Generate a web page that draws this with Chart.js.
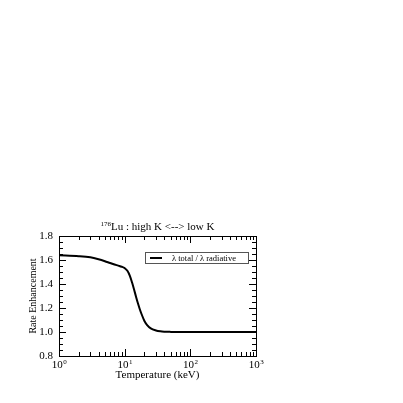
<!DOCTYPE html>
<html><head><meta charset="utf-8">
<script src="https://cdn.jsdelivr.net/npm/chart.js@4/dist/chart.umd.min.js"></script>
<style>html,body{margin:0;padding:0;background:#fff;}#wrap{width:403px;height:403px;}</style>
</head><body><div id="wrap"><canvas id="c" width="403" height="403"></canvas></div>
<script>
const temperature = [1, 2, 3, 4, 5, 6, 7, 8, 9, 10, 11, 12, 13, 14, 15, 16, 17, 18, 20, 22, 25, 30, 35, 40, 50, 70, 100, 1000];
const enhancement = [1.640, 1.632, 1.622, 1.606, 1.590, 1.575, 1.563, 1.553, 1.544, 1.532, 1.510, 1.468, 1.410, 1.348, 1.288, 1.235, 1.190, 1.152, 1.092, 1.058, 1.030, 1.013, 1.006, 1.003, 1.001, 1.0, 1.0, 1.0];
const xTickValues = [1, 10, 100, 1000];
const xTickBase = "10";
const xTickExponents = ["0", "1", "2", "3"];
const yTickValues = [0.8, 1.0, 1.2, 1.4, 1.6, 1.8];
const seriesLabel = "λ total / λ radiative";
const titleSup = "176";
const titleMain = "Lu : high K <--> low K";
const xTitle = "Temperature (keV)";
const yTitle = "Rate Enhancement";

const SERIF = "'Liberation Serif', 'DejaVu Serif', serif";

const decor = {
  id: 'decor',
  afterDatasetsDraw(chart) {
    const ctx = chart.ctx, a = chart.chartArea;
    const xs = chart.scales.x, ys = chart.scales.y;
    ctx.save();
    ctx.strokeStyle = '#000';
    ctx.lineWidth = 1;
    ctx.strokeRect(Math.round(a.left) + 0.5, Math.round(a.top) + 0.5, Math.round(a.right - a.left), Math.round(a.bottom - a.top));
    ctx.beginPath();
    for (let d = 0; d < 3; d++) {
      for (let m = 1; m <= 9; m++) {
        const v = m * Math.pow(10, d);
        const px = Math.round(xs.getPixelForValue(v)) + 0.5;
        const len = m === 1 ? 7 : 4;
        ctx.moveTo(px, a.bottom); ctx.lineTo(px, a.bottom - len);
        ctx.moveTo(px, a.top); ctx.lineTo(px, a.top + len);
      }
    }
    for (let i = 0; i <= 20; i++) {
      const v = 0.8 + i * 0.05;
      const py = Math.round(ys.getPixelForValue(v)) + 0.5;
      const len = i % 4 === 0 ? 7 : 4;
      ctx.moveTo(a.left, py); ctx.lineTo(a.left + len, py);
      ctx.moveTo(a.right, py); ctx.lineTo(a.right - len, py);
    }
    ctx.stroke();

    ctx.fillStyle = '#000';
    xTickValues.forEach((v, i) => {
      const px = xs.getPixelForValue(v);
      ctx.font = '11px ' + SERIF;
      const wb = ctx.measureText(xTickBase).width;
      ctx.font = '7px ' + SERIF;
      const we = ctx.measureText(xTickExponents[i]).width;
      const x0 = px - (wb + we) / 2;
      ctx.textBaseline = 'alphabetic';
      ctx.textAlign = 'left';
      ctx.font = '11px ' + SERIF;
      ctx.fillText(xTickBase, x0, a.bottom + 12);
      ctx.font = '7px ' + SERIF;
      ctx.fillText(xTickExponents[i], x0 + wb + 0.5, a.bottom + 8);
    });
    ctx.font = '11px ' + SERIF;
    ctx.textAlign = 'center';
    ctx.fillText(xTitle, (a.left + a.right) / 2, a.bottom + 22);
    ctx.save();
    ctx.translate(33, (a.top + a.bottom) / 2);
    ctx.rotate(-Math.PI / 2);
    ctx.font = '10px ' + SERIF;
    ctx.textAlign = 'center';
    ctx.textBaseline = 'middle';
    ctx.fillText(yTitle, 0, 0);
    ctx.restore();
    ctx.font = '7px ' + SERIF;
    const ws = ctx.measureText(titleSup).width;
    ctx.font = '11px ' + SERIF;
    const wm = ctx.measureText(titleMain).width;
    const tx = (a.left + a.right) / 2 - (ws + wm) / 2;
    ctx.textAlign = 'left';
    ctx.textBaseline = 'alphabetic';
    ctx.font = '7px ' + SERIF;
    ctx.fillText(titleSup, tx, a.top - 10);
    ctx.font = '11px ' + SERIF;
    ctx.fillText(titleMain, tx + ws, a.top - 6);
    const lx = 145, ly = 252, lw = 103, lh = 11;
    ctx.fillStyle = '#fff';
    ctx.fillRect(lx, ly, lw, lh);
    ctx.strokeStyle = '#555';
    ctx.lineWidth = 1;
    ctx.strokeRect(lx + 0.5, ly + 0.5, lw, lh);
    ctx.strokeStyle = '#000';
    ctx.lineWidth = 2;
    ctx.beginPath();
    ctx.moveTo(150, ly + lh / 2 + 0.5); ctx.lineTo(162, ly + lh / 2 + 0.5);
    ctx.stroke();
    ctx.fillStyle = '#000';
    ctx.font = '8.5px ' + SERIF;
    ctx.textBaseline = 'middle';
    ctx.fillText(chart.data.datasets[0].label, 172, ly + lh / 2 + 1);
    ctx.restore();
  }
};

new Chart(document.getElementById('c'), {
  type: 'line',
  data: {
    datasets: [{
      label: seriesLabel,
      data: temperature.map((t, i) => ({ x: t, y: enhancement[i] })),
      borderColor: '#000',
      borderWidth: 2,
      pointRadius: 0,
      fill: false,
      cubicInterpolationMode: 'monotone'
    }]
  },
  options: {
    responsive: false,
    animation: false,
    devicePixelRatio: 1,
    layout: { padding: { left: 20, right: 147, top: 236, bottom: 0 } },
    plugins: { legend: { display: false }, title: { display: false }, tooltip: { enabled: false } },
    scales: {
      x: {
        type: 'logarithmic', min: 1, max: 1000,
        grid: { display: false, drawTicks: false },
        border: { display: false },
        ticks: { display: false },
        afterBuildTicks(s) { s.ticks = xTickValues.map(v => ({ value: v })); },
        afterFit(s) { s.height = 47; }
      },
      y: {
        min: 0.8, max: 1.8,
        grid: { display: false, drawTicks: false },
        border: { display: false },
        afterBuildTicks(s) { s.ticks = yTickValues.map(v => ({ value: v })); },
        ticks: {
          color: '#000', padding: 6,
          font: { family: SERIF, size: 11 },
          callback: v => Number(v).toFixed(1)
        },
        afterFit(s) { s.width = 39; }
      }
    }
  },
  plugins: [decor]
});
</script></body></html>
